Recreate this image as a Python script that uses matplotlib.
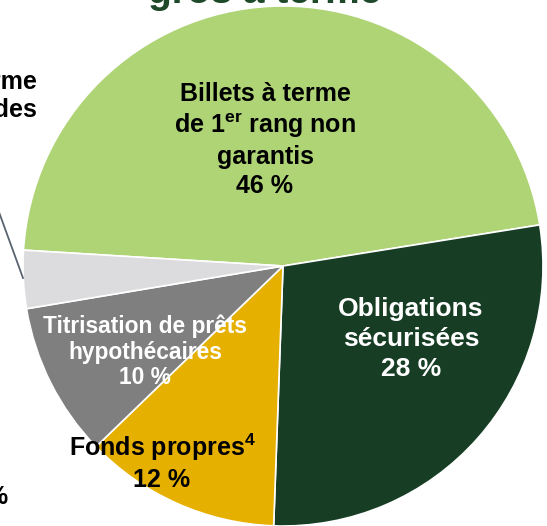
import matplotlib
matplotlib.use("Agg")
import matplotlib.pyplot as plt

plt.rcParams["font.family"] = ["Liberation Sans", "DejaVu Sans"]
plt.rcParams["mathtext.fontset"] = "custom"
plt.rcParams["mathtext.rm"] = "Liberation Sans"
plt.rcParams["mathtext.bf"] = "Liberation Sans:bold"

# --- data (clockwise from the left edge) ---
labels = ["Billets à terme\nde 1$^{\\mathbf{er}}$ rang non\ngarantis",
          "Obligations\nsécurisées",
          "Fonds propres$^{\\mathbf{4}}$",
          "Titrisation de prêts\nhypothécaires",
          "Autres"]
shares = [46.5, 28.1, 12.2, 9.6, 3.6]          # slice sizes
shown = [46, 28, 12, 10, 4]                    # percentages as printed
colors = ["#aed476", "#173d24", "#e6b000", "#7f7f7f", "#dcdcdf"]
text_colors = ["black", "white", "black", "white", "black"]

W, H = 547, 526
fig = plt.figure(figsize=(W / 100, H / 100), dpi=100)
ax = fig.add_axes([0, 0, 1, 1])

cx, cy, r = 283, H - 266, 260
wedges, _ = ax.pie(shares, colors=colors, startangle=176.5, counterclock=False,
                   center=(cx, cy), radius=r, frame=True,
                   wedgeprops=dict(edgecolor="white", linewidth=1.2))
ax.set_xlim(0, W)
ax.set_ylim(0, H)
ax.axis("off")

# labels inside slices (pixel positions from top)
pos = [(265, 140), (411, 339), (162, 462), (145, 352)]
sizes = [18, 19, 18, 16.4]
spacing = [1.25, 1.3, 1.29, 1.14]
for i, (x, y) in enumerate(pos):
    ax.text(x, H - y, f"{labels[i]}\n{shown[i]} %", ha="center", va="center",
            fontsize=sizes[i], fontweight="bold", color=text_colors[i],
            linespacing=spacing[i])

# truncated outside label for the small slice
ax.text(37, H - 96, "Billets à terme\nsubordonnés des", ha="right", va="center",
        fontsize=18, fontweight="bold", color="black", linespacing=1.2)
ax.text(8, H - 497, f"{shown[4]} %", ha="right", va="center",
        fontsize=18, fontweight="bold", color="black")
ax.plot([23, -20], [H - 278, H - 160], color="#5a6470", lw=1.3)

# title, mostly cut off at the top
ax.text(265, H - 11, "Financement de\ngros à terme", ha="center", va="bottom",
        fontsize=28, fontweight="bold", color="#1f4a2a", linespacing=1.1)

fig.savefig("out.png", dpi=100)
